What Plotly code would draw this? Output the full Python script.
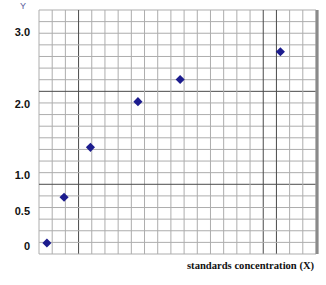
import plotly.graph_objects as go

# data
conc = [0.6, 1.9, 3.9, 7.5, 10.7, 18.3]
absorb = [0.05, 0.69, 1.39, 2.03, 2.34, 2.73]
y_ticks = [0, 0.5, 1.0, 2.0, 3.0]
y_tick_text = ["0", "0.5", "1.0", "2.0", "3.0"]

N = 21
dark_v = [3, 17, 18]
dark_h = [7, 15]

fig = go.Figure()
fig.add_trace(go.Scatter(
    x=conc, y=absorb, mode="markers",
    marker=dict(symbol="diamond", size=7, color="#1c1c8e"),
    showlegend=False, cliponaxis=False,
))

shapes = []
for i in range(N + 1):
    xv = i / N
    dark = i in dark_v
    shapes.append(dict(type="line", xref="paper", yref="paper", x0=xv, x1=xv, y0=0, y1=1,
                       line=dict(color="#4a4a4a" if dark else "#adadad", width=1), layer="below"))
    yv = 1 - i / N
    darkh = i in dark_h
    shapes.append(dict(type="line", xref="paper", yref="paper", x0=0, x1=1, y0=yv, y1=yv,
                       line=dict(color="#4a4a4a" if darkh else "#adadad", width=1), layer="below"))
shapes.append(dict(type="line", xref="paper", yref="paper", x0=1.004, x1=1.004, y0=0, y1=1,
                   line=dict(color="#8a8a8a", width=3)))

fig.update_layout(
    width=326, height=285,
    margin=dict(l=39, r=10, t=10, b=31),
    paper_bgcolor="white", plot_bgcolor="white",
    shapes=shapes,
    xaxis=dict(range=[0, N], showgrid=False, zeroline=False, showticklabels=False,
               ticks="", showline=False),
    yaxis=dict(range=[-0.104, 3.314], showgrid=False, zeroline=False,
               tickmode="array", tickvals=y_ticks, ticktext=y_tick_text,
               ticks="", ticklabelstandoff=8, showline=False,
               tickfont=dict(family="Liberation Sans, Arial", size=11, color="#111111", weight="bold")),
    annotations=[
        dict(text="Y", xref="paper", yref="paper", x=-0.056, y=1.017, showarrow=False,
             xanchor="center", yanchor="middle",
             font=dict(family="Liberation Sans, Arial", size=9, color="#5a5a9a")),
        dict(text="standards concentration (X)", xref="paper", yref="paper", x=1.005, y=-0.048,
             showarrow=False, xanchor="right", yanchor="middle",
             font=dict(family="Liberation Serif, Times New Roman", size=10.6, color="#111111", weight="bold")),
    ],
)

fig.write_html("out.html")
